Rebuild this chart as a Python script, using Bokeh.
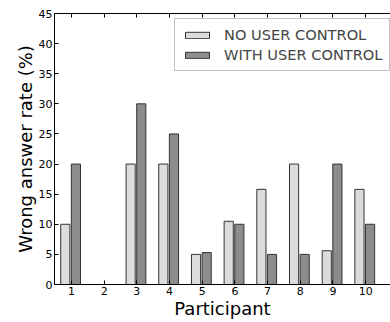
from bokeh.plotting import figure
from bokeh.models import ColumnDataSource, Range1d, FixedTicker, LinearAxis, Legend, LegendItem
from bokeh.transform import dodge
from bokeh.embed import file_html
from bokeh.resources import INLINE

participants = [1, 2, 3, 4, 5, 6, 7, 8, 9, 10]
no_user_control = [10, 0, 20, 20, 5, 10.5, 15.8, 20, 5.6, 15.8]
with_user_control = [20, 0, 30, 25, 5.3, 10, 5, 5, 20, 10]
y_ticks = [0, 5, 10, 15, 20, 25, 30, 35, 40, 45]
series_labels = ["NO USER CONTROL", "WITH USER CONTROL"]

FONT = "DejaVu Sans"

src = ColumnDataSource(dict(p=participants, a=no_user_control, b=with_user_control))

p = figure(width=390, height=322, output_backend="svg", toolbar_location=None,
           x_range=Range1d(0.48, 10.76), y_range=Range1d(0, 45),
           min_border_left=54, min_border_right=0, min_border_top=13, min_border_bottom=38)
p.outline_line_color = None
p.xgrid.visible = False
p.ygrid.visible = False

r1 = p.vbar(x=dodge("p", -0.19, range=p.x_range), top="a", width=0.28, source=src,
            fill_color="#dcdcdc", line_color="#333333", line_width=1)
r2 = p.vbar(x=dodge("p", 0.135, range=p.x_range), top="b", width=0.28, source=src,
            fill_color="#8c8c8c", line_color="#333333", line_width=1)

def style_axis(ax):
    ax.axis_line_color = "black"
    ax.axis_line_width = 1
    ax.major_tick_in = 4
    ax.major_tick_out = 0
    ax.major_tick_line_color = "black"
    ax.minor_tick_line_color = None
    ax.major_label_text_font = FONT
    ax.major_label_text_font_size = "11px"
    ax.major_label_text_color = "black"
    ax.axis_label_text_font = FONT
    ax.axis_label_text_font_style = "normal"
    ax.axis_label_text_color = "black"

p.xaxis.ticker = FixedTicker(ticks=participants)
p.yaxis.ticker = FixedTicker(ticks=y_ticks)
style_axis(p.xaxis[0])
style_axis(p.yaxis[0])
p.xaxis.axis_label = "Participant"
p.yaxis.axis_label = "Wrong answer rate (%)"
p.xaxis.axis_label_text_font_size = "18px"
p.yaxis.axis_label_text_font_size = "18px"
p.xaxis.major_label_standoff = 2
p.yaxis.major_label_standoff = 2
p.xaxis.axis_label_standoff = 0
p.yaxis.axis_label_standoff = 0

top = LinearAxis(ticker=FixedTicker(ticks=participants))
style_axis(top)
top.major_label_overrides = {t: "" for t in participants}
top.major_label_standoff = 0
p.add_layout(top, "above")

legend = Legend(items=[LegendItem(label=series_labels[0], renderers=[r1]),
                       LegendItem(label=series_labels[1], renderers=[r2])],
                location=(120, 213))
legend.glyph_width = 30
legend.glyph_height = 8
legend.label_text_font = FONT
legend.label_text_font_size = "14.6px"
legend.label_standoff = 12
legend.padding = 7
legend.spacing = 3
legend.margin = 0
legend.border_line_color = "#888888"
legend.border_line_width = 1
legend.background_fill_alpha = 1
p.add_layout(legend)

open("out.html", "w").write(file_html(p, INLINE))
